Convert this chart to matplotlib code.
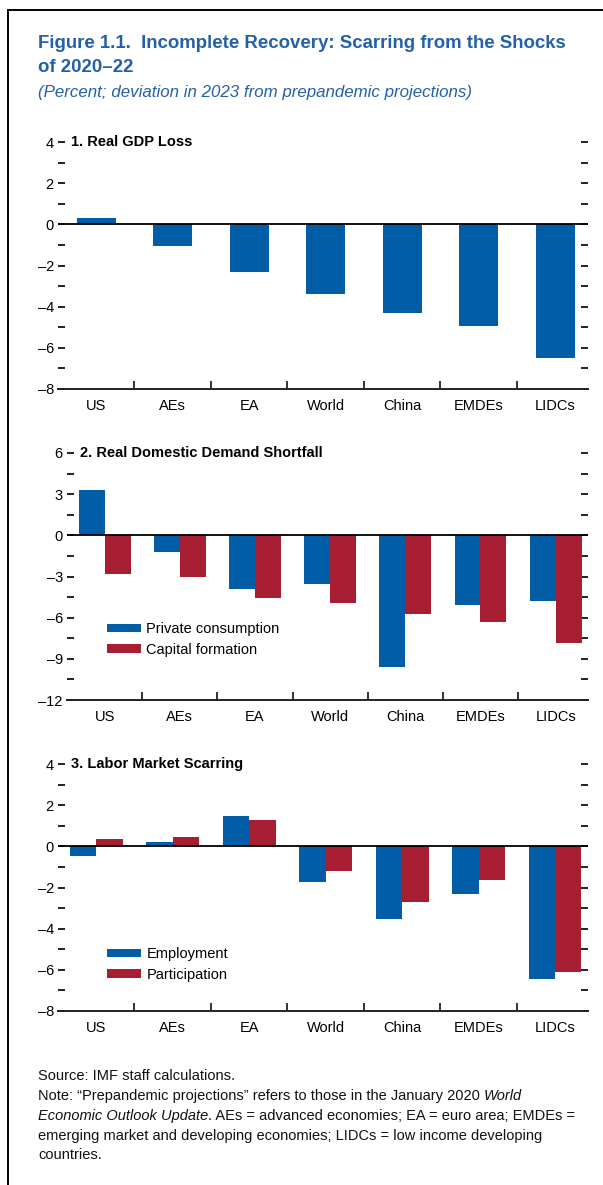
import matplotlib
matplotlib.use("Agg")
import matplotlib.pyplot as plt
import matplotlib.ticker as mticker
import numpy as np

plt.rcParams['font.family'] = ['Liberation Sans', 'DejaVu Sans']

# data
categories = ['US', 'AEs', 'EA', 'World', 'China', 'EMDEs', 'LIDCs']
gdp_loss = [0.3, -1.05, -2.3, -3.4, -4.3, -4.95, -6.5]
private_consumption = [3.3, -1.2, -3.9, -3.55, -9.6, -5.05, -4.75]
capital_formation = [-2.85, -3.0, -4.6, -4.95, -5.75, -6.35, -7.85]
employment = [-0.45, 0.2, 1.45, -1.75, -3.55, -2.3, -6.45]
participation = [0.35, 0.45, 1.3, -1.2, -2.7, -1.65, -6.1]

BLUE = '#005DA6'
RED = '#A71E32'
TITLE_BLUE = '#2460AA'

W, H = 603, 1185
fig = plt.figure(figsize=(W / 100, H / 100), dpi=100)
renderer = fig.canvas.get_renderer()


def fx(px):
    return px / W


def fy(py):
    return 1 - py / H


def fit_text(x, y, s, width_px, **kw):
    # shrink/grow the font so the line takes the same width as in the reference
    t = fig.text(fx(x), fy(y), s, va='center', **kw)
    bb = t.get_window_extent(renderer)
    t.set_fontsize(t.get_fontsize() * width_px / bb.width)
    return t


def make_axes(left, right, top, bottom):
    return fig.add_axes([fx(left), fy(bottom), fx(right - left), (bottom - top) / H])


def style_axes(ax, top_px, ylim, major, title, title_x):
    ax.set_ylim(*ylim)
    ax.set_xlim(-0.5, 6.43)
    for s in ['left', 'right', 'top']:
        ax.spines[s].set_visible(False)
    ax.spines['bottom'].set_linewidth(1.4)
    ax.spines['bottom'].set_color('#222222')
    ax.axhline(0, color='black', lw=1.3, zorder=3)
    ax.yaxis.set_major_locator(mticker.MultipleLocator(major))
    ax.yaxis.set_minor_locator(mticker.MultipleLocator(major / 2))
    ax.yaxis.set_major_formatter(mticker.FuncFormatter(lambda v, p: f'{v:.0f}'.replace('-', '\u2013')))
    ax.tick_params(axis='y', which='both', direction='in', length=5, width=1.4,
                   left=True, right=True, color='#222222', labelsize=10.5, pad=3)
    ax.set_xticks(range(len(categories)))
    ax.set_xticklabels(categories)
    ax.set_xticks(np.arange(0.5, 6, 1), minor=True)
    ax.tick_params(axis='x', which='major', length=0, labelsize=10.5, pad=7)
    ax.tick_params(axis='x', which='minor', direction='in', length=6, width=1.3, color='#222222')
    fig.text(fx(title_x), fy(top_px), title, fontsize=10.5, fontweight='bold',
             va='center', ha='left')


def add_legend(ax, left_px, ax_left, top_px, ax_top):
    ax.legend(loc='upper left',
              bbox_to_anchor=((left_px - ax_left) / (588 - ax_left), 1 - (top_px - ax_top) / 247),
              frameon=False, fontsize=10.5, handlelength=2.3, handleheight=0.5,
              handletextpad=0.4, labelspacing=0.45, borderaxespad=0, borderpad=0)


x = np.arange(len(categories))
w = 0.345

# panel 1
ax1 = make_axes(58, 588, 142, 389)
ax1.bar(x, gdp_loss, width=0.51, color=BLUE, zorder=2)
style_axes(ax1, 142, (-8, 4), 2, '1. Real GDP Loss', 71)

# panel 2
ax2 = make_axes(67, 588, 453, 700)
ax2.bar(x - w / 2, private_consumption, width=w, color=BLUE, zorder=2, label='Private consumption')
ax2.bar(x + w / 2, capital_formation, width=w, color=RED, zorder=2, label='Capital formation')
style_axes(ax2, 453, (-12, 6), 3, '2. Real Domestic Demand Shortfall', 80)
add_legend(ax2, 107, 67, 622, 453)

# panel 3
ax3 = make_axes(58, 588, 764, 1011)
ax3.bar(x - w / 2, employment, width=w, color=BLUE, zorder=2, label='Employment')
ax3.bar(x + w / 2, participation, width=w, color=RED, zorder=2, label='Participation')
style_axes(ax3, 764, (-8, 4), 2, '3. Labor Market Scarring', 71)
add_legend(ax3, 107, 58, 947, 764)

# titles
t1 = fit_text(38, 43, 'Figure 1.1.  Incomplete Recovery: Scarring from the Shocks', 528,
              fontsize=13, fontweight='bold', color=TITLE_BLUE)
fig.text(fx(38), fy(67), 'of 2020\u201322', fontsize=t1.get_fontsize(), fontweight='bold',
         color=TITLE_BLUE, va='center')
fit_text(38, 93, '(Percent; deviation in 2023 from prepandemic projections)', 434,
         fontsize=11, style='italic', color=TITLE_BLUE)

# footnote, with italic runs
note_lines = [
    [('Source: IMF staff calculations.', 'normal')],
    [('Note: \u201cPrepandemic projections\u201d refers to those in the January 2020 ', 'normal'),
     ('World', 'italic')],
    [('Economic Outlook Update', 'italic'),
     ('. AEs = advanced economies; EA = euro area; EMDEs =', 'normal')],
    [('emerging market and developing economies; LIDCs = low income developing', 'normal')],
    [('countries.', 'normal')],
]
note_y = [1076, 1096, 1116, 1136, 1155]

# size the footnote so its widest line matches the reference width (38 -> 576 px)
probe = [fig.text(0, 0, txt, fontsize=10, style=st) for txt, st in note_lines[2]]
probe_w = sum(p.get_window_extent(renderer).width for p in probe)
for p in probe:
    p.remove()
note_size = 10 * 536 / probe_w

for line, ly in zip(note_lines, note_y):
    cur = 38
    for txt, st in line:
        t = fig.text(fx(cur), fy(ly), txt, fontsize=note_size, style=st, va='center', color='#111111')
        cur = t.get_window_extent(renderer).x1

# frame (left and top edges only)
fig.add_artist(plt.Line2D([fx(8), fx(8)], [fy(10), 0], color='black', lw=1.4))
fig.add_artist(plt.Line2D([fx(8), 1], [fy(10), fy(10)], color='black', lw=1.4))

fig.savefig('out.png', dpi=100)
